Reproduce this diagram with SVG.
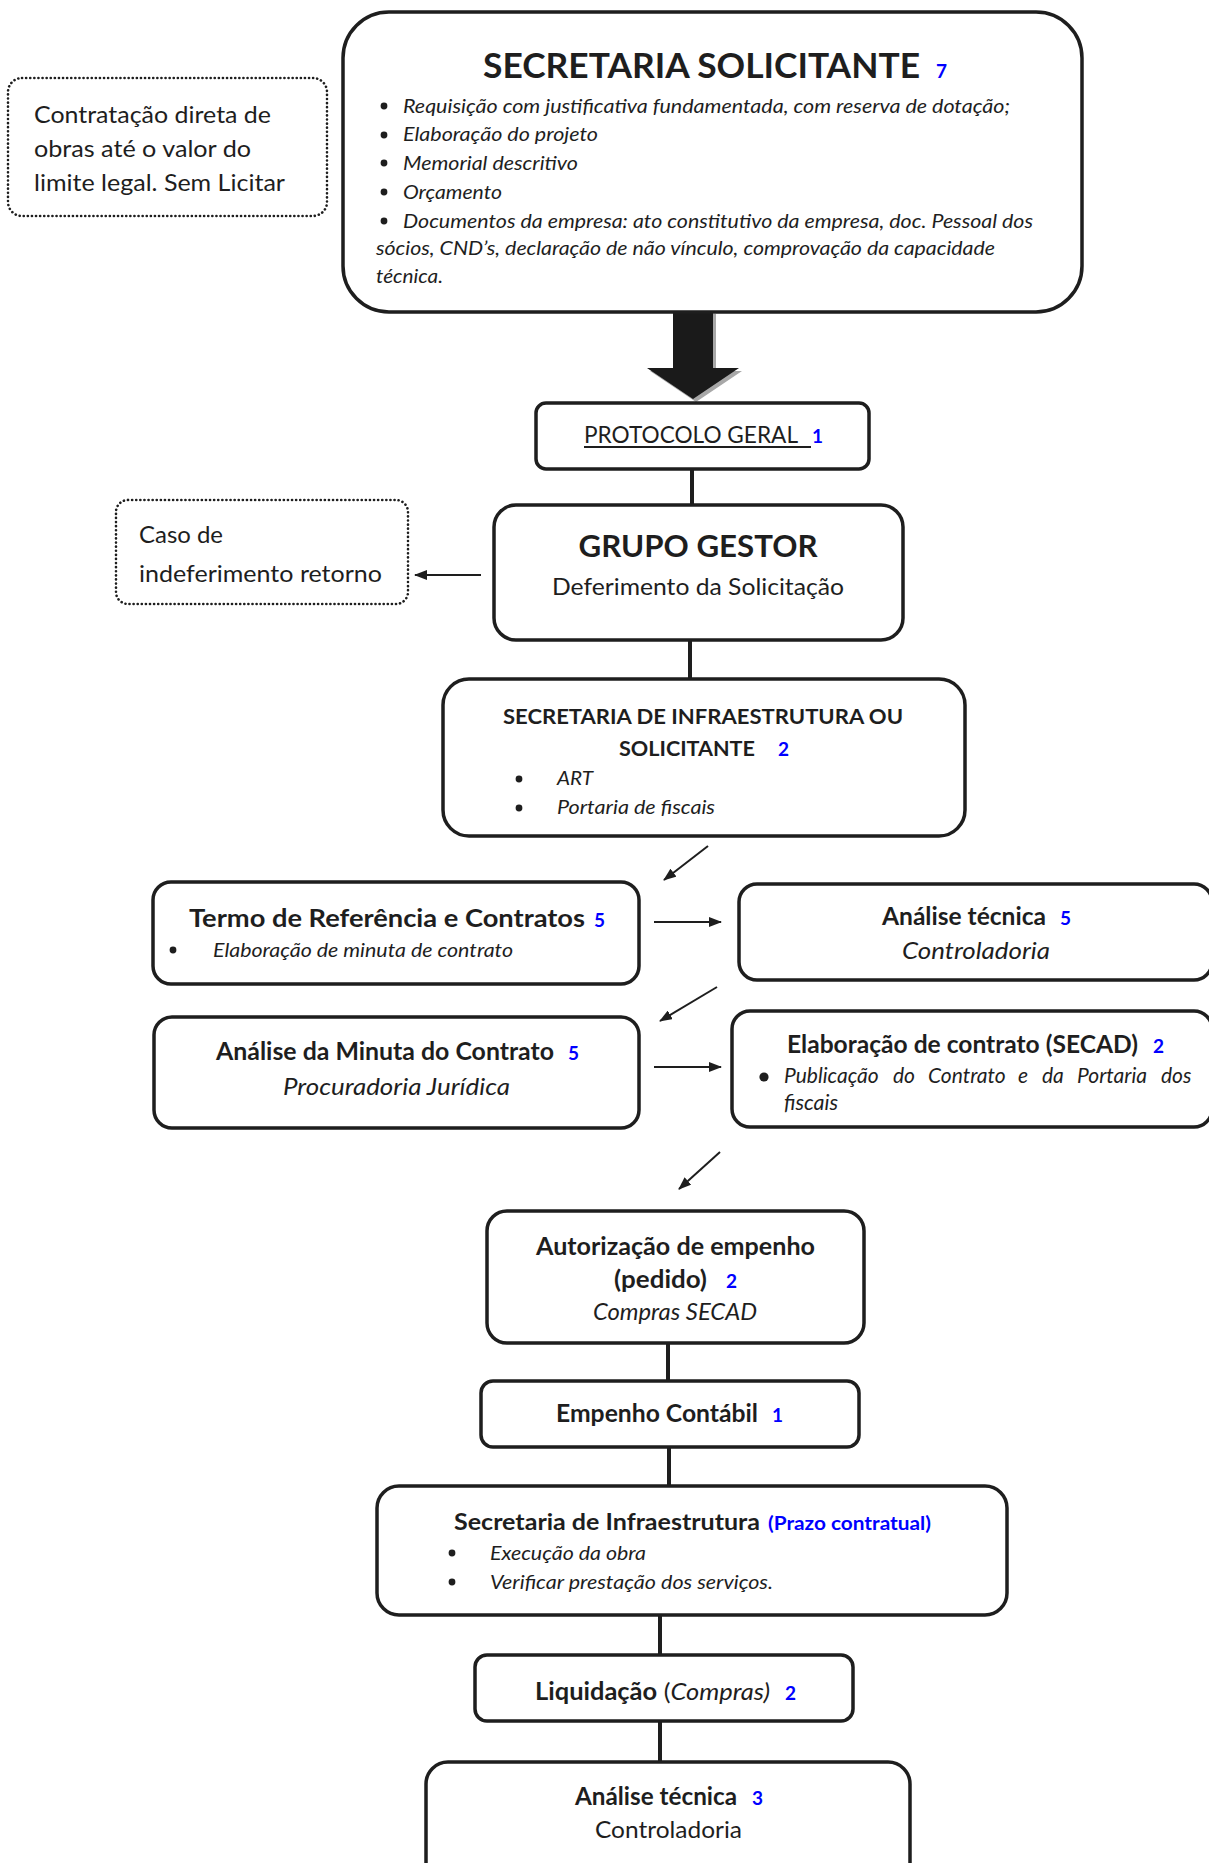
<svg xmlns="http://www.w3.org/2000/svg" width="1209" height="1863" viewBox="0 0 1209 1863">
<defs>
<style>
.box{fill:#fff;stroke:#1e1e1e;stroke-width:3.5}
.dot{fill:#fff;stroke:#1e1e1e;stroke-width:2.6;stroke-dasharray:0.1 4;stroke-linecap:round}
text{font-family:Lato,"Liberation Sans",sans-serif;fill:#1e1e1e}
.b{font-weight:bold}
.i{font-style:italic}
.n{fill:#0000ff;font-weight:bold;font-size:19px}
.c{stroke:#1e1e1e;stroke-width:4;fill:none}
.a{stroke:#1e1e1e;stroke-width:2;fill:none;marker-end:url(#ah)}
.bl{fill:#1e1e1e}
</style>
<marker id="ah" markerUnits="userSpaceOnUse" markerWidth="13" markerHeight="10" refX="12" refY="5" orient="auto">
<path d="M0,0 L13,5 L0,10 z" fill="#1e1e1e"/>
</marker>
</defs>
<rect width="1209" height="1863" fill="#fff"/>

<g id="connectors">
<polygon points="676,314 716,314 716,371 742,371 696,402 650,371 676,371" fill="#a8a8a8"/>
<polygon points="673,311 713,311 713,368 739,368 693,399 647,368 673,368" fill="#1a1a1a"/>
<line class="c" x1="692" y1="469" x2="692" y2="505"/>
<line class="a" x1="481" y1="575" x2="415" y2="575"/>
<line class="c" x1="690" y1="640" x2="690" y2="679"/>
<line class="a" x1="708" y1="846" x2="664" y2="880"/>
<line class="a" x1="654" y1="922" x2="721" y2="922"/>
<line class="a" x1="717" y1="987" x2="660" y2="1021"/>
<line class="a" x1="654" y1="1067" x2="721" y2="1067"/>
<line class="a" x1="720" y1="1152" x2="679" y2="1189"/>
<line class="c" x1="668" y1="1343" x2="668" y2="1381"/>
<line class="c" x1="669" y1="1447" x2="669" y2="1486"/>
<line class="c" x1="660" y1="1615" x2="660" y2="1655"/>
<line class="c" x1="660" y1="1721" x2="660" y2="1762"/>
</g>

<g id="secretaria-solicitante">
<rect class="box" x="343" y="12" width="739" height="300" rx="46"/>
<text class="b" x="483" y="78" font-size="34.5" textLength="437" lengthAdjust="spacingAndGlyphs">SECRETARIA SOLICITANTE</text>
<text class="n" x="936" y="78" font-size="21">7</text>
<circle class="bl" cx="384" cy="106" r="3.4"/>
<text class="i" x="403" y="113" font-size="20" textLength="607" lengthAdjust="spacingAndGlyphs">Requisição com justificativa fundamentada, com reserva de dotação;</text>
<circle class="bl" cx="384" cy="135" r="3.4"/>
<text class="i" x="403" y="141" font-size="20" textLength="195" lengthAdjust="spacingAndGlyphs">Elaboração do projeto</text>
<circle class="bl" cx="384" cy="163" r="3.4"/>
<text class="i" x="403" y="170" font-size="20" textLength="175" lengthAdjust="spacingAndGlyphs">Memorial descritivo</text>
<circle class="bl" cx="384" cy="192" r="3.4"/>
<text class="i" x="403" y="199" font-size="20" textLength="99" lengthAdjust="spacingAndGlyphs">Orçamento</text>
<circle class="bl" cx="384" cy="221" r="3.4"/>
<text class="i" x="403" y="228" font-size="20" textLength="630" lengthAdjust="spacingAndGlyphs">Documentos da empresa: ato constitutivo da empresa, doc. Pessoal dos</text>
<text class="i" x="376" y="255" font-size="20" textLength="619" lengthAdjust="spacingAndGlyphs">sócios, CND’s, declaração de não vínculo, comprovação da capacidade</text>
<text class="i" x="376" y="283" font-size="20" textLength="67" lengthAdjust="spacingAndGlyphs">técnica.</text>
</g>

<g id="contratacao-direta">
<rect class="dot" x="8" y="78" width="319" height="138" rx="14"/>
<text x="34" y="123" font-size="23" textLength="237" lengthAdjust="spacingAndGlyphs">Contratação direta de</text>
<text x="34" y="157" font-size="23" textLength="217" lengthAdjust="spacingAndGlyphs">obras até o valor do</text>
<text x="34" y="191" font-size="23" textLength="251" lengthAdjust="spacingAndGlyphs">limite legal. Sem Licitar</text>
</g>

<g id="protocolo-geral">
<rect class="box" x="536" y="403" width="333" height="66" rx="10"/>
<text x="584" y="443" font-size="23" textLength="214" lengthAdjust="spacingAndGlyphs">PROTOCOLO GERAL</text>
<line x1="584" y1="447" x2="811" y2="447" stroke="#1e1e1e" stroke-width="1.8"/>
<text class="n" x="812" y="443">1</text>
</g>

<g id="grupo-gestor">
<rect class="box" x="494" y="505" width="409" height="135" rx="22"/>
<text class="b" x="698" y="557" font-size="30" text-anchor="middle" textLength="239" lengthAdjust="spacingAndGlyphs">GRUPO GESTOR</text>
<text x="698" y="595" font-size="23" text-anchor="middle" textLength="292" lengthAdjust="spacingAndGlyphs">Deferimento da Solicitação</text>
</g>

<g id="caso-indeferimento">
<rect class="dot" x="116" y="500" width="292" height="104" rx="12"/>
<text x="139" y="543" font-size="23" textLength="84" lengthAdjust="spacingAndGlyphs">Caso de</text>
<text x="139" y="582" font-size="23" textLength="243" lengthAdjust="spacingAndGlyphs">indeferimento retorno</text>
</g>

<g id="secretaria-infraestrutura-ou-solicitante">
<rect class="box" x="443" y="679" width="522" height="157" rx="26"/>
<text class="b" x="503" y="724" font-size="21" textLength="400" lengthAdjust="spacingAndGlyphs">SECRETARIA DE INFRAESTRUTURA OU</text>
<text class="b" x="619" y="756" font-size="21" textLength="136" lengthAdjust="spacingAndGlyphs">SOLICITANTE</text>
<text class="n" x="778" y="756">2</text>
<circle class="bl" cx="519" cy="779" r="3.4"/>
<text class="i" x="557" y="785" font-size="19" textLength="36" lengthAdjust="spacingAndGlyphs">ART</text>
<circle class="bl" cx="519" cy="808" r="3.4"/>
<text class="i" x="557" y="814" font-size="19" textLength="158" lengthAdjust="spacingAndGlyphs">Portaria de fiscais</text>
</g>

<g id="termo-referencia">
<rect class="box" x="153" y="882" width="486" height="102" rx="18"/>
<text class="b" x="189" y="927" font-size="24.5" textLength="396" lengthAdjust="spacingAndGlyphs">Termo de Referência e Contratos</text>
<text class="n" x="594" y="927">5</text>
<circle class="bl" cx="173" cy="950" r="3.4"/>
<text class="i" x="213" y="957" font-size="19" textLength="300" lengthAdjust="spacingAndGlyphs">Elaboração de minuta de contrato</text>
</g>

<g id="analise-tecnica-controladoria">
<rect class="box" x="739" y="884" width="473" height="96" rx="18"/>
<text class="b" x="882" y="925" font-size="24.5" textLength="164" lengthAdjust="spacingAndGlyphs">Análise técnica</text>
<text class="n" x="1060" y="925">5</text>
<text class="i" x="902" y="959" font-size="23.5" textLength="148" lengthAdjust="spacingAndGlyphs">Controladoria</text>
</g>

<g id="analise-minuta">
<rect class="box" x="154" y="1017" width="485" height="111" rx="18"/>
<text class="b" x="216" y="1060" font-size="24.5" textLength="338" lengthAdjust="spacingAndGlyphs">Análise da Minuta do Contrato</text>
<text class="n" x="568" y="1060">5</text>
<text class="i" x="283" y="1095" font-size="23.5" textLength="227" lengthAdjust="spacingAndGlyphs">Procuradoria Jurídica</text>
</g>

<g id="elaboracao-contrato">
<rect class="box" x="732" y="1011" width="480" height="116" rx="18"/>
<text class="b" x="787" y="1053" font-size="24.5" textLength="351" lengthAdjust="spacingAndGlyphs">Elaboração de contrato (SECAD)</text>
<text class="n" x="1153" y="1053">2</text>
<circle class="bl" cx="764" cy="1077" r="4.6"/>
<text class="i" y="1083" font-size="21"><tspan x="784">Publicação</tspan><tspan x="893">do</tspan><tspan x="928">Contrato</tspan><tspan x="1018">e</tspan><tspan x="1042">da</tspan><tspan x="1077">Portaria</tspan><tspan x="1161">dos</tspan></text>
<text class="i" x="784" y="1110" font-size="21" textLength="54" lengthAdjust="spacingAndGlyphs">fiscais</text>
</g>

<g id="autorizacao-empenho">
<rect class="box" x="487" y="1211" width="377" height="132" rx="20"/>
<text class="b" x="536" y="1255" font-size="24.5" textLength="279" lengthAdjust="spacingAndGlyphs">Autorização de empenho</text>
<text class="b" x="614" y="1288" font-size="24.5" textLength="93" lengthAdjust="spacingAndGlyphs">(pedido)</text>
<text class="n" x="726" y="1288">2</text>
<text class="i" x="593" y="1320" font-size="23.5" textLength="164" lengthAdjust="spacingAndGlyphs">Compras SECAD</text>
</g>

<g id="empenho-contabil">
<rect class="box" x="481" y="1381" width="378" height="66" rx="12"/>
<text class="b" x="556" y="1422" font-size="24.5" textLength="202" lengthAdjust="spacingAndGlyphs">Empenho Contábil</text>
<text class="n" x="772" y="1422">1</text>
</g>

<g id="secretaria-infraestrutura">
<rect class="box" x="377" y="1486" width="630" height="129" rx="22"/>
<text class="b" x="454" y="1530" font-size="23.5" textLength="306" lengthAdjust="spacingAndGlyphs">Secretaria de Infraestrutura</text>
<text class="n" x="768" y="1530" font-size="19" textLength="163" lengthAdjust="spacingAndGlyphs">(Prazo contratual)</text>
<circle class="bl" cx="452" cy="1553" r="3.4"/>
<text class="i" x="490" y="1560" font-size="20" textLength="156" lengthAdjust="spacingAndGlyphs">Execução da obra</text>
<circle class="bl" cx="452" cy="1582" r="3.4"/>
<text class="i" x="490" y="1589" font-size="20" textLength="283" lengthAdjust="spacingAndGlyphs">Verificar prestação dos serviços.</text>
</g>

<g id="liquidacao">
<rect class="box" x="475" y="1655" width="378" height="66" rx="12"/>
<text x="535" y="1700" font-size="24" textLength="235" lengthAdjust="spacingAndGlyphs"><tspan class="b">Liquidação</tspan> (<tspan class="i">Compras)</tspan></text>
<text class="n" x="785" y="1700">2</text>
</g>

<g id="analise-tecnica-final">
<rect class="box" x="426" y="1762" width="484" height="130" rx="22"/>
<text class="b" x="575" y="1805" font-size="24.5" textLength="162" lengthAdjust="spacingAndGlyphs">Análise técnica</text>
<text class="n" x="752" y="1805">3</text>
<text x="595" y="1838" font-size="23.5" textLength="147" lengthAdjust="spacingAndGlyphs">Controladoria</text>
</g>
</svg>
